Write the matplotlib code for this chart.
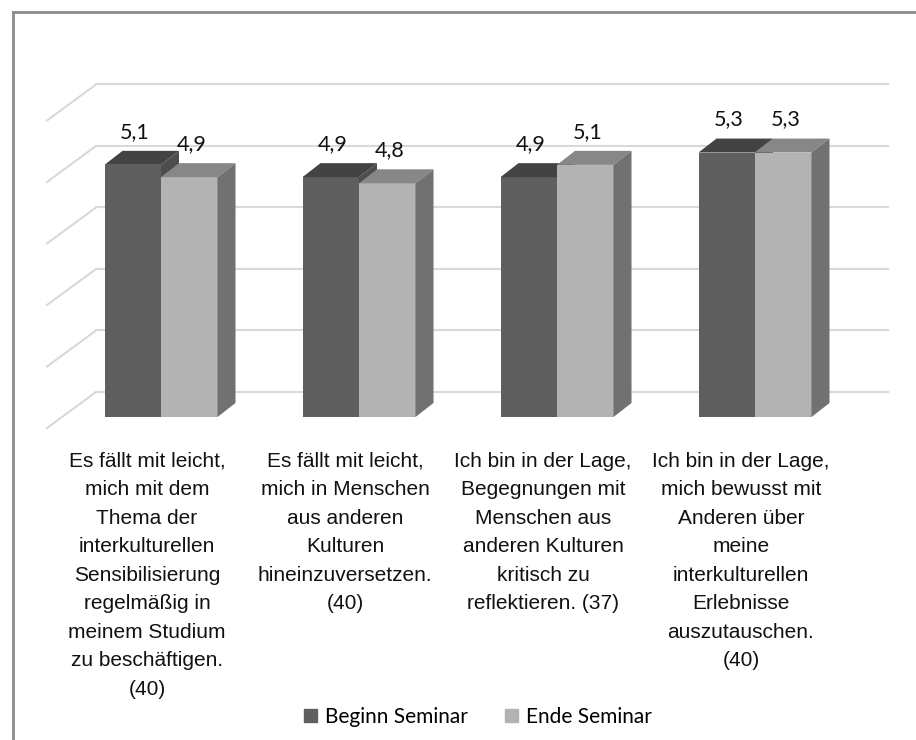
import numpy as np
import matplotlib.pyplot as plt
from matplotlib.patches import Polygon, Patch
from matplotlib.lines import Line2D

#=====================#
categories = [
    "Es fällt mit leicht,\nmich mit dem\nThema der\ninterkulturellen\nSensibilisierung\nregelmäßig in\nmeinem Studium\nzu beschäftigen.\n(40)",
    "Es fällt mit leicht,\nmich in Menschen\naus anderen\nKulturen\nhineinzuversetzen.\n(40)",
    "Ich bin in der Lage,\nBegegnungen mit\nMenschen aus\nanderen Kulturen\nkritisch zu\nreflektieren. (37)",
    "Ich bin in der Lage,\nmich bewusst mit\nAnderen über\nmeine\ninterkulturellen\nErlebnisse\nauszutauschen.\n(40)",
]
beginn = [5.1, 4.9, 4.9, 5.3]
ende = [4.9, 4.8, 5.1, 5.3]
series_names = ["Beginn Seminar", "Ende Seminar"]
y_ticks = [1, 2, 3, 4, 5, 6]
#=====================#

front_cols = ["#5f5f5f", "#b3b3b3"]
top_cols = ["#434343", "#878787"]
side_cols = ["#4d4d4d", "#717171"]

plt.rcParams["font.family"] = ["Liberation Sans Narrow", "Liberation Sans", "DejaVu Sans"]

W, H = 916, 740
fig = plt.figure(figsize=(W / 100, H / 100), dpi=100)
ax = fig.add_axes([0, 0, 1, 1])

# pixel scale: one category = 198 px, one value unit = 61.5 px
sx, sy = 198.0, 61.5
x0px, y0px = 161.0, 417.0   # group 0 centre, value 1 at front floor
ax.set_xlim(-x0px / sx, (W - x0px) / sx)
ax.set_ylim(1 - (H - y0px) / sy, 1 + y0px / sy)
ax.axis("off")

w = 56.5 / sx
dx, dy = 18 / sx, 14 / sy          # bar depth
wx, wy = 34 / sx, 25 / sy          # back wall offset
fx, fy = -15 / sx, -11 / sy        # floor front offset
x_right = (888 - x0px) / sx

# walls / gridlines
for t in y_ticks:
    ax.plot([wx - 0.5, x_right], [t + wy, t + wy], color="#d9d9d9", lw=1.5, zorder=1)
    ax.plot([fx - 0.5, wx - 0.5], [t + fy, t + wy], color="#d9d9d9", lw=1.5, zorder=1)

xs = np.arange(len(categories))
for j, vals in enumerate([beginn, ende]):
    left = xs - w + j * w
    ax.bar(left, np.array(vals) - 1, bottom=1, width=w, align="edge",
           color=front_cols[j], linewidth=0, zorder=3 + j)
    for xl, v in zip(left, vals):
        top = [(xl, v), (xl + w, v), (xl + w + dx, v + dy), (xl + dx, v + dy)]
        side = [(xl + w, 1), (xl + w + dx, 1 + dy), (xl + w + dx, v + dy), (xl + w, v)]
        ax.add_patch(Polygon(top, closed=True, color=top_cols[j], lw=0, zorder=3 + j))
        ax.add_patch(Polygon(side, closed=True, color=side_cols[j], lw=0, zorder=3 + j))
        ax.text(xl + w / 2 + 2 / sx, v + 0.54, f"{v:.1f}".replace(".", ","),
                ha="center", va="center", fontsize=15.5,
                family=["Lato", "DejaVu Sans"], color="#111111", zorder=10)

for i, lab in enumerate(categories):
    ax.text(i - 14 / sx, 1 - (452 - y0px) / sy, lab, ha="center", va="top",
            fontsize=15, linespacing=1.63, color="#111111")

handles = [Patch(color=front_cols[k], label=series_names[k]) for k in range(2)]
fig.legend(handles=handles, loc="center", bbox_to_anchor=(478 / W, 1 - 717 / H), ncol=2,
           frameon=False, handlelength=0.6, handleheight=0.6, handletextpad=0.4,
           columnspacing=1.8, prop={"family": ["Lato", "DejaVu Sans"], "size": 15})

# chart border (cropped at right/bottom)
fig.add_artist(Line2D([13 / W, 1], [1 - 12 / H, 1 - 12 / H], color="#8c8c8c", lw=2))
fig.add_artist(Line2D([13 / W, 13 / W], [0, 1 - 12 / H], color="#8c8c8c", lw=2))

fig.savefig("out.png")
